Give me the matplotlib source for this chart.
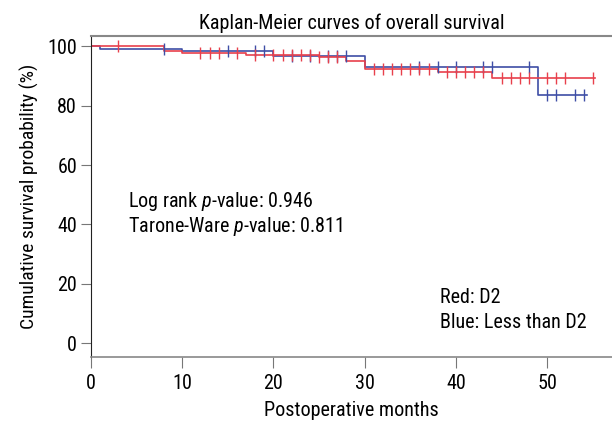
import matplotlib
matplotlib.use("Agg")
import matplotlib.pyplot as plt
from matplotlib import font_manager

# pick a narrow font if one is installed
names = set(f.name for f in font_manager.fontManager.ttflist)
font = 'DejaVu Sans'
for cand in ['Roboto Condensed', 'Liberation Sans Narrow', 'DejaVu Sans Condensed']:
    if cand in names:
        font = cand
        break

plt.rcParams['font.family'] = [font, 'DejaVu Sans']
plt.rcParams['mathtext.fontset'] = 'custom'
plt.rcParams['mathtext.rm'] = font
plt.rcParams['mathtext.it'] = font + ':italic'

# step curves: event times and survival (%) after each step
red_times = [0, 8, 10, 17, 25, 28, 30, 38, 44, 55.2]
red_surv = [100, 98.6, 97.9, 97.0, 96.3, 95.0, 92.5, 91.3, 89.5, 89.5]
red_censor = [3, 12, 13, 14, 16, 18, 20, 21, 22, 23, 24, 25, 26, 27, 31, 32, 33,
              34, 35, 36, 37, 39, 40, 41, 42, 43, 45, 46, 47, 48, 50, 51, 52, 55]

blue_times = [0, 1, 10, 20, 30, 49, 54.4]
blue_surv = [100, 99.2, 98.4, 96.8, 93.0, 83.5, 83.5]
blue_censor = [8, 15, 18, 19, 22, 24, 26, 27, 28, 36, 38, 40, 43, 44, 48,
               50, 51, 53, 54]

red_col = '#e8404c'
blue_col = '#3e4ea6'


def surv_at(times, surv, t):
    val = surv[0]
    for ti, si in zip(times, surv):
        if ti <= t:
            val = si
    return val


fig = plt.figure(figsize=(6.12, 4.24), dpi=100)
ax = fig.add_axes([0.1487, 0.158, 0.8513, 0.757])

ax.step(blue_times, blue_surv, where='post', color=blue_col, lw=1.2)
ax.step(red_times, red_surv, where='post', color=red_col, lw=1.2)
ax.plot(blue_censor, [surv_at(blue_times, blue_surv, t) for t in blue_censor],
        ls='none', marker='|', ms=8, mew=1.0, color=blue_col)
ax.plot(red_censor, [surv_at(red_times, red_surv, t) for t in red_censor],
        ls='none', marker='|', ms=8, mew=1.0, color=red_col)

ax.set_xlim(0, 57.1)
ax.set_ylim(-4.7, 103.5)
ax.set_xticks([0, 10, 20, 30, 40, 50])
ax.set_yticks([0, 20, 40, 60, 80, 100])
ax.tick_params(axis='x', length=8, color='#777777', labelsize=14.5, pad=4)
ax.tick_params(axis='y', length=7, color='#777777', labelsize=14.5, pad=3)

ax.spines['right'].set_visible(False)
ax.spines['top'].set_color('#888888')
ax.spines['bottom'].set_color('#888888')
ax.spines['top'].set_linewidth(1.5)
ax.spines['bottom'].set_linewidth(1.2)
ax.spines['left'].set_color('#222222')

ax.set_title('Kaplan-Meier curves of overall survival', fontsize=14.5, pad=5)
ax.set_xlabel('Postoperative months', fontsize=14.5, labelpad=6)
ax.set_ylabel('Cumulative survival probability (%)', fontsize=14, labelpad=6)

ax.text(4.0, 47.8, 'Log rank $\\it{p}$-value: 0.946', fontsize=14.5, va='center')
ax.text(4.0, 39.4, 'Tarone-Ware $\\it{p}$-value: 0.811', fontsize=14.5, va='center')
ax.text(38.3, 15.5, 'Red: D2', fontsize=14.5, va='center')
ax.text(38.3, 7.1, 'Blue: Less than D2', fontsize=14.5, va='center')

fig.savefig('out.png', dpi=100)
